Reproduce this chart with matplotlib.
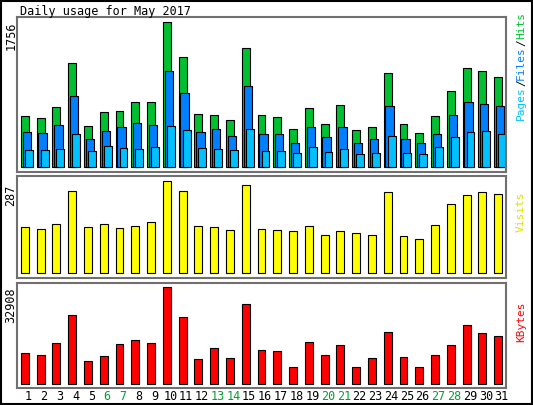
import matplotlib
matplotlib.use("Agg")
import matplotlib.pyplot as plt
from matplotlib.patches import Rectangle

days = list(range(1, 32))
hits = [614,593,727,1260,493,666,678,787,787,1756,1332,642,630,569,1441,630,606,460,715,521,751,448,484,1138,521,412,618,920,1199,1163,1090]
files = [424,412,509,860,339,436,484,533,509,1163,896,424,460,375,981,400,400,291,484,363,484,291,339,739,339,291,400,630,787,763,739]
pages = [206,206,218,400,194,254,230,218,242,497,448,230,218,206,460,194,194,170,242,182,218,157,170,375,170,157,242,363,424,436,400]
visits = [145,136,154,257,145,154,139,148,160,287,254,148,142,133,275,136,133,130,148,118,130,124,118,251,115,106,151,214,242,251,245]
kbytes = [10394,9701,13856,23555,7621,9353,13510,14895,13856,32908,22862,8313,12124,8660,27019,11431,11085,5889,14202,9699,13163,5889,8660,17666,9006,5889,9699,13163,20091,17320,16281]
weekends = [6,7,13,14,20,21,27,28]

W, H = 533, 405
fig = plt.figure(figsize=(W/100, H/100), dpi=100)
fig.patch.set_facecolor("white")
fig.add_artist(Rectangle((0.002, 0.002), 0.996, 0.996, transform=fig.transFigure, fill=False, edgecolor="black", lw=1.5))
mono = "DejaVu Sans Mono"

def mkax(top, bot):
    ax = fig.add_axes([17/W, 1-bot/H, (506-17)/W, (bot-top)/H])
    ax.set_xlim(0, 31)
    ax.set_xticks([]); ax.set_yticks([])
    for s in ax.spines.values():
        s.set_edgecolor("#707070"); s.set_linewidth(1.5)
    return ax

ax1 = mkax(17, 172)
m = max(hits)
ax1.set_ylim(-m*5/145, m*(1+5/145))
for i, d in enumerate(days):
    ax1.bar(d-1+0.25, hits[i], width=0.5, align="edge", color="#00C030", edgecolor="black", lw=0.8)
    ax1.bar(d-1+0.36, files[i], width=0.53, align="edge", color="#0080FF", edgecolor="black", lw=0.8)
    ax1.bar(d-1+0.5, pages[i], width=0.5, align="edge", color="#00C0FF", edgecolor="black", lw=0.8)

ax2 = mkax(176, 278)
m2 = max(visits)
ax2.set_ylim(-m2*5/95, m2*(1+5/95))
ax2.bar([d-1+0.25 for d in days], visits, width=0.5, align="edge", color="#FFFF00", edgecolor="black", lw=0.8)

ax3 = mkax(283, 388)
m3 = max(kbytes)
ax3.set_ylim(-m3*4/95, m3*(1+4/95))
ax3.bar([d-1+0.25 for d in days], kbytes, width=0.5, align="edge", color="#FF0000", edgecolor="black", lw=0.8)

for d in days:
    x = (17 + (d-1+0.72)*(489/31))/W
    fig.text(x, 1-396/H, str(d), ha="center", va="center", fontsize=8.5, family=mono,
             color="#00A030" if d in weekends else "black")

fig.text(20/W, 1-11/H, "Daily usage for May 2017", ha="left", va="center", fontsize=8.5, family=mono)
fig.text(11/W, 1-36/H, "1756", rotation=90, ha="center", va="center", fontsize=8.5, family=mono)
fig.text(11/W, 1-195/H, "287", rotation=90, ha="center", va="center", fontsize=8.5, family=mono)
fig.text(11/W, 1-305/H, "32908", rotation=90, ha="center", va="center", fontsize=8.5, family=mono)

# right stacked label: Pages/Files/Hits, bottom to top
r = fig.canvas.get_renderer()
x_r = 521/W
ypix = H - 120
for s, c in [("Pages", "#00C0FF"), ("/", "black"), ("Files", "#0080FF"), ("/", "black"), ("Hits", "#00C030")]:
    t = fig.text(x_r, ypix/H, s, rotation=90, ha="center", va="bottom", fontsize=8, family=mono, color=c)
    bb = t.get_window_extent(r)
    ypix = bb.y1
fig.text(x_r, 1-212/H, "Visits", rotation=90, ha="center", va="center", fontsize=8, family=mono, color="#E0E000")
fig.text(x_r, 1-322/H, "KBytes", rotation=90, ha="center", va="center", fontsize=8, family=mono, color="#FF0000")

fig.savefig("out.png", dpi=100)
